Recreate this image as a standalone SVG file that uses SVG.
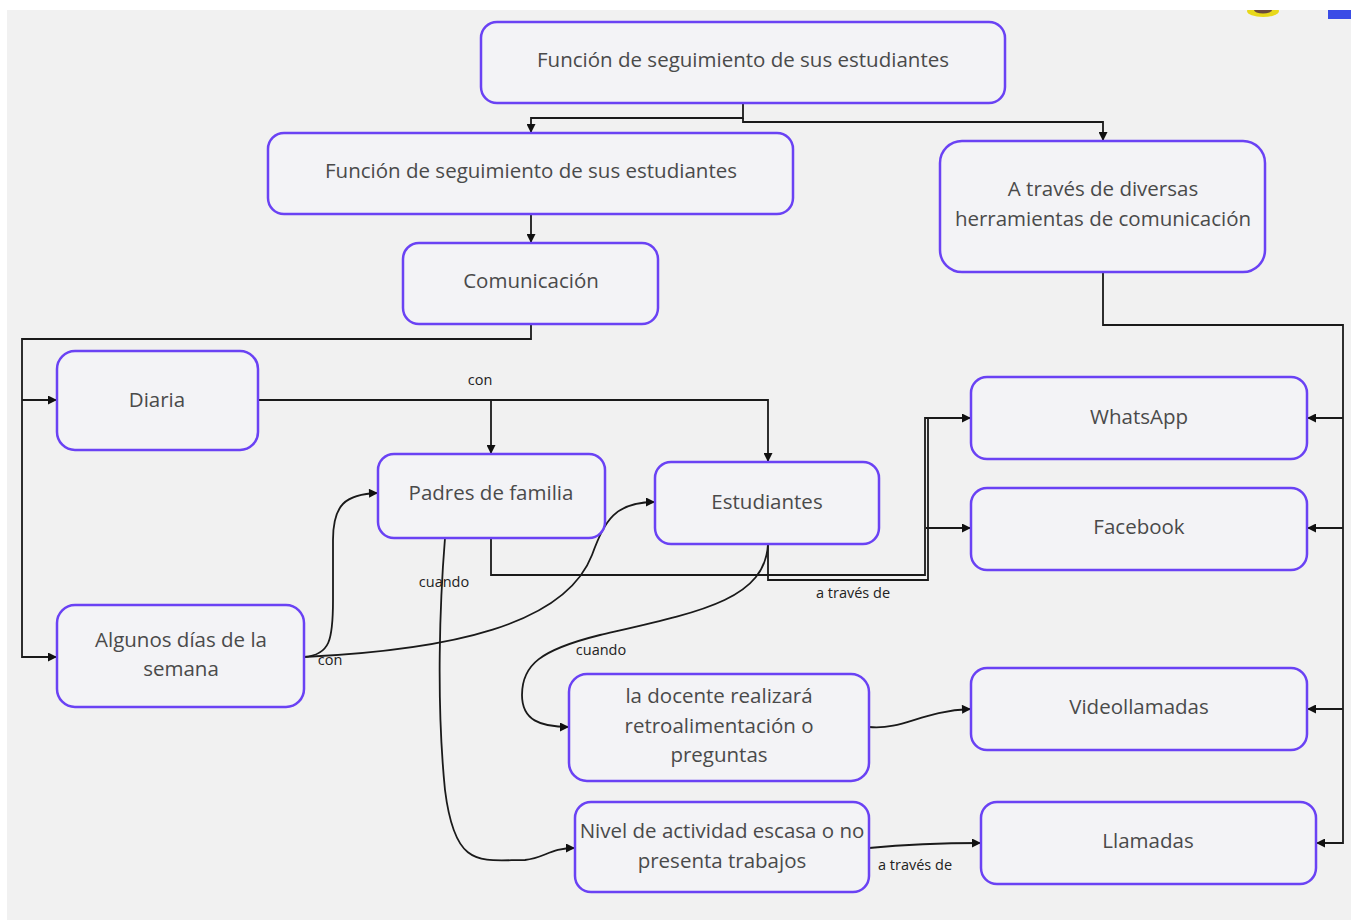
<svg xmlns="http://www.w3.org/2000/svg" width="1351" height="920" viewBox="0 0 1351 920">
<defs>
<style>
.n rect{fill:#f3f3f6;stroke:#6a42f4;stroke-width:2.5}
.n text{font-family:"Open Sans","Noto Sans",sans-serif;font-size:20.5px;fill:#4a4a4a;text-anchor:middle}
.c path{fill:none;stroke:#1a1a1a;stroke-width:1.8}
.lbl{font-family:"Open Sans","Noto Sans",sans-serif;font-size:14.5px;fill:#222}
</style>
<marker id="a" viewBox="0 0 10 10" refX="10" refY="5" markerWidth="11" markerHeight="9" markerUnits="userSpaceOnUse" orient="auto-start-reverse">
<path d="M0,0 L10,5 L0,10 Z" fill="#111"/>
</marker>
</defs>
<rect width="1351" height="920" fill="#f1f1f1"/>
<ellipse cx="1263" cy="11" rx="16" ry="6" fill="#e8d81a"/>
<ellipse cx="1263" cy="10" rx="9" ry="3.5" fill="#6b4a3a"/>
<rect x="1328" y="6" width="23" height="13" fill="#3a4ce6"/>
<rect x="0" y="0" width="1351" height="10" fill="#ffffff"/>
<rect x="0" y="0" width="7" height="920" fill="#ffffff"/>

<g class="c">
<path d="M743,103 V118 H531 V133" marker-end="url(#a)"/>
<path d="M743,118 V122 H1103 V141" marker-end="url(#a)"/>
<path d="M531,214 V243" marker-end="url(#a)"/>
<path d="M531,324 V339 H22 V657 H57" marker-end="url(#a)"/>
<path d="M22,400 H57" marker-end="url(#a)"/>
<path d="M258,400 H768 V462" marker-end="url(#a)"/>
<path d="M491,400 V454" marker-end="url(#a)"/>
<path d="M304,657 C330,655 333,640 333,600 V540 C333,505 345,494 378,493" marker-end="url(#a)"/>
<path d="M304,657 C450,650 565,625 592,555 C605,520 615,502 655,502" marker-end="url(#a)"/>
<path d="M491,538 V575 H925 V418 H971" marker-end="url(#a)"/>
<path d="M768,544 V580 H928 V418"/>
<path d="M926,528 H971" marker-end="url(#a)"/>
<path d="M445,538 C440,600 436,700 445,790 C455,870 480,860 525,860 C545,858 550,848 575,848" marker-end="url(#a)"/>
<path d="M768,544 C765,600 700,612 600,635 C540,650 522,665 522,695 C522,720 540,727 569,727" marker-end="url(#a)"/>
<path d="M869,727 C905,730 920,711 971,709" marker-end="url(#a)"/>
<path d="M869,848 C900,845 930,843 981,843" marker-end="url(#a)"/>
<path d="M1103,272 V325 H1343 V843 H1316" marker-end="url(#a)"/>
<path d="M1343,418 H1307" marker-end="url(#a)"/>
<path d="M1343,528 H1307" marker-end="url(#a)"/>
<path d="M1343,709 H1307" marker-end="url(#a)"/>
</g>

<g id="labels">
<text class="lbl" x="480" y="385" text-anchor="middle">con</text>
<text class="lbl" x="330" y="665" text-anchor="middle">con</text>
<text class="lbl" x="444" y="587" text-anchor="middle">cuando</text>
<text class="lbl" x="601" y="655" text-anchor="middle">cuando</text>
<text class="lbl" x="853" y="598" text-anchor="middle">a través de</text>
<text class="lbl" x="915" y="870" text-anchor="middle">a través de</text>
</g>

<g id="n1" class="n"><rect x="481" y="22" width="524" height="81" rx="16"/><text x="743" y="67">Función de seguimiento de sus estudiantes</text></g>
<g id="n2" class="n"><rect x="268" y="133" width="525" height="81" rx="16"/><text x="531" y="178">Función de seguimiento de sus estudiantes</text></g>
<g id="n3" class="n"><rect x="940" y="141" width="325" height="131" rx="22"/><text x="1103" y="196">A través de diversas</text><text x="1103" y="226">herramientas de comunicación</text></g>
<g id="n4" class="n"><rect x="403" y="243" width="255" height="81" rx="16"/><text x="531" y="288">Comunicación</text></g>
<g id="n5" class="n"><rect x="57" y="351" width="201" height="99" rx="18"/><text x="157" y="407">Diaria</text></g>
<g id="n6" class="n"><rect x="378" y="454" width="227" height="84" rx="16"/><text x="491" y="500">Padres de familia</text></g>
<g id="n7" class="n"><rect x="655" y="462" width="224" height="82" rx="16"/><text x="767" y="509">Estudiantes</text></g>
<g id="n8" class="n"><rect x="971" y="377" width="336" height="82" rx="16"/><text x="1139" y="424">WhatsApp</text></g>
<g id="n9" class="n"><rect x="971" y="488" width="336" height="82" rx="16"/><text x="1139" y="534">Facebook</text></g>
<g id="n10" class="n"><rect x="57" y="605" width="247" height="102" rx="18"/><text x="181" y="647">Algunos días de la</text><text x="181" y="676">semana</text></g>
<g id="n11" class="n"><rect x="569" y="674" width="300" height="107" rx="18"/><text x="719" y="703">la docente realizará</text><text x="719" y="733">retroalimentación o</text><text x="719" y="762">preguntas</text></g>
<g id="n12" class="n"><rect x="971" y="668" width="336" height="82" rx="16"/><text x="1139" y="714">Videollamadas</text></g>
<g id="n13" class="n"><rect x="575" y="802" width="294" height="90" rx="16"/><text x="722" y="838">Nivel de actividad escasa o no</text><text x="722" y="868">presenta trabajos</text></g>
<g id="n14" class="n"><rect x="981" y="802" width="335" height="82" rx="16"/><text x="1148" y="848">Llamadas</text></g>
</svg>
